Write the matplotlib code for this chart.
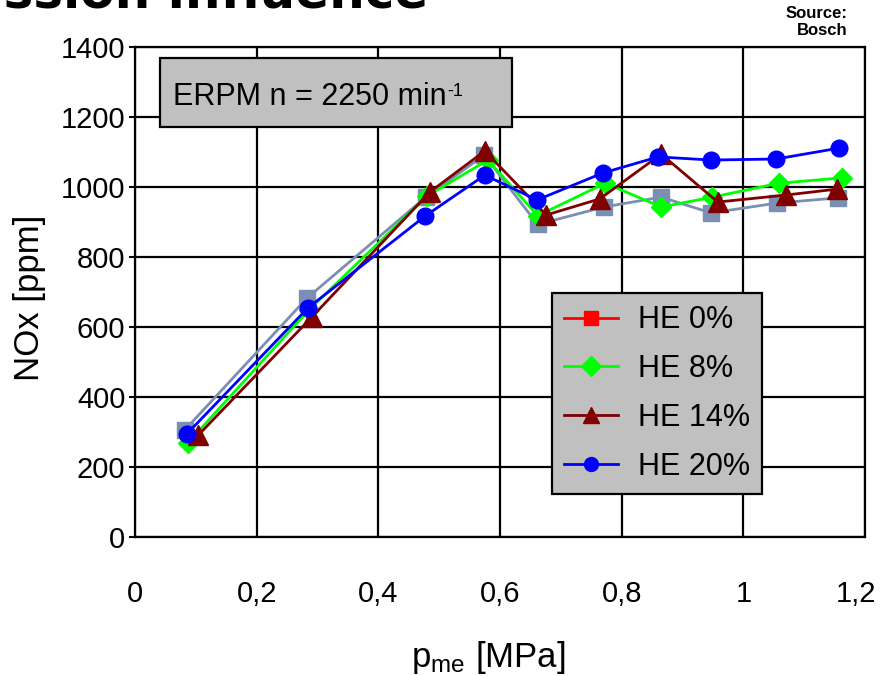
import matplotlib

matplotlib.use("Agg")
import matplotlib.pyplot as plt
from matplotlib.lines import Line2D
from matplotlib.patches import Rectangle
from matplotlib.transforms import ScaledTranslation

plt.rcParams["font.family"] = ["Liberation Sans", "DejaVu Sans"]
plt.rcParams["mathtext.fontset"] = "custom"
plt.rcParams["mathtext.rm"] = "Liberation Sans"
plt.rcParams["mathtext.it"] = "Liberation Sans"

# NOx [ppm] over mean effective pressure [MPa], ERPM 2250 1/min
x_he0 = [0.082, 0.283, 0.478, 0.574, 0.662, 0.771, 0.865, 0.947, 1.055, 1.156]
y_he0 = [306, 683, 971, 1091, 893, 943, 971, 926, 954, 969]

x_he8 = [0.087, 0.286, 0.480, 0.580, 0.662, 0.773, 0.865, 0.949, 1.059, 1.162]
y_he8 = [269, 649, 974, 1077, 918, 1011, 943, 971, 1011, 1026]

x_he14 = [0.104, 0.291, 0.485, 0.575, 0.676, 0.764, 0.865, 0.958, 1.070, 1.154]
y_he14 = [291, 629, 986, 1103, 920, 966, 1094, 957, 977, 994]

x_he20 = [0.085, 0.284, 0.477, 0.575, 0.661, 0.769, 0.860, 0.947, 1.054, 1.157]
y_he20 = [294, 654, 917, 1034, 963, 1040, 1086, 1077, 1080, 1111]

labels = ["HE 0%", "HE 8%", "HE 14%", "HE 20%"]
x_ticks = [0, 0.2, 0.4, 0.6, 0.8, 1.0, 1.2]
x_ticklabels = ["0", "0,2", "0,4", "0,6", "0,8", "1", "1,2"]
y_ticks = [0, 200, 400, 600, 800, 1000, 1200, 1400]

W, H = 883, 676
fig = plt.figure(figsize=(W / 100, H / 100), dpi=100)
ax = fig.add_axes([135 / W, 1 - 537 / H, 730 / W, 490 / H])

ax.plot(x_he0, y_he0, color="#7a8fb3", lw=2, marker="s", ms=11, mec="#7a8fb3")
ax.plot(x_he8, y_he8, color="#00ff00", lw=2, marker="D", ms=10, mec="#00ff00")
ax.plot(x_he14, y_he14, color="#800000", lw=2, marker="^", ms=14, mec="#800000")
ax.plot(x_he20, y_he20, color="#0000ff", lw=2, marker="o", ms=12, mec="#0000ff")

ax.set_xlim(0, 1.2)
ax.set_ylim(0, 1400)
ax.set_xticks(x_ticks)
ax.set_xticklabels(x_ticklabels)
ax.set_yticks(y_ticks)
ax.tick_params(axis="x", length=0, pad=31, labelsize=21)
ax.tick_params(axis="y", length=4, width=1.5, pad=3, labelsize=21)
ax.grid(True, color="black", lw=1.6)
ax.set_axisbelow(True)
for sp in ax.spines.values():
    sp.set_linewidth(1.6)
# last x label sits a little left of its gridline, as in the source
last = ax.get_xticklabels()[-1]
last.set_transform(last.get_transform() + ScaledTranslation(-0.09, 0, fig.dpi_scale_trans))

fig.text(30 / W, 1 - 298 / H, "NOx [ppm]", rotation=90, ha="center", va="center", fontsize=25)
fig.text(488 / W, 1 - 667 / H, r"p$_{\rm me}$ [MPa]", ha="center", va="baseline", fontsize=25)

# ERPM box
fig.patches.append(Rectangle((160 / W, 1 - 127 / H), 352 / W, 69 / H, transform=fig.transFigure,
                             facecolor="#c0c0c0", edgecolor="black", lw=1.6, zorder=3))
t = fig.text(173 / W, 1 - 105 / H, "ERPM n = 2250 min", ha="left", va="baseline", fontsize=22, zorder=4)
fig.canvas.draw()
bb = t.get_window_extent()
fig.text(bb.x1 / W + 1 / W, 1 - 96 / H, "-1", ha="left", va="baseline", fontsize=13, zorder=4)

handles = [
    Line2D([0], [0], color="#ff0000", lw=2, marker="s", ms=10),
    Line2D([0], [0], color="#00ff00", lw=2, marker="D", ms=10),
    Line2D([0], [0], color="#800000", lw=2, marker="^", ms=12),
    Line2D([0], [0], color="#0000ff", lw=2, marker="o", ms=10),
]
leg = ax.legend(
    handles, labels, loc="upper left", bbox_to_anchor=(552 / W, 1 - 293 / H),
    bbox_transform=fig.transFigure, fontsize=22, frameon=True, fancybox=False,
    facecolor="#c0c0c0", edgecolor="black", framealpha=1, borderaxespad=0,
    handlelength=1.75, handletextpad=0.65, labelspacing=0.62, borderpad=0.4,
)
leg.get_frame().set_linewidth(1.6)

fig.text(428 / W, 1 - 8 / H, "Emission influence", ha="right", va="baseline",
         fontsize=36, fontweight="bold", family="DejaVu Sans")
fig.text(848 / W, 1 - 38 / H, "Source:\nBosch", ha="right", va="bottom",
         fontsize=12, fontweight="bold", linespacing=1.15)

fig.savefig("out.png", dpi=100)
